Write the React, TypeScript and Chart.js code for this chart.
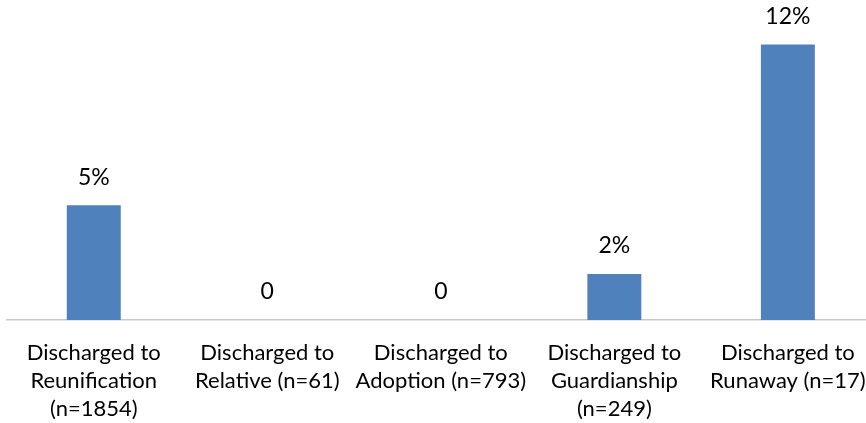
import React, { useEffect, useRef } from "react";
import { Chart, registerables } from "chart.js";

Chart.register(...registerables);

const categories: string[][] = [
  ["Discharged to", "Reunification", "(n=1854)"],
  ["Discharged to", "Relative (n=61)"],
  ["Discharged to", "Adoption (n=793)"],
  ["Discharged to", "Guardianship", "(n=249)"],
  ["Discharged to", "Runaway (n=17)"],
];
const values: number[] = [5, 0, 0, 2, 12];
const valueLabels: string[] = ["5%", "0", "0", "2%", "12%"];

const FONT = "Lato, 'Noto Sans', sans-serif";

const valueLabelPlugin = {
  id: "valueLabels",
  afterDatasetsDraw(chart: any) {
    const ctx = chart.ctx;
    const meta = chart.getDatasetMeta(0);
    ctx.save();
    ctx.font = `23px ${FONT}`;
    ctx.fillStyle = "#000000";
    ctx.textAlign = "center";
    ctx.textBaseline = "middle";
    meta.data.forEach((bar: any, i: number) => {
      ctx.fillText(valueLabels[i], bar.x, bar.y - 28);
    });
    ctx.restore();
  },
};

export default function App() {
  const ref = useRef<HTMLCanvasElement | null>(null);
  useEffect(() => {
    document.body.style.overflow = "hidden";
    if (!ref.current) return;
    const chart = new Chart(ref.current, {
      type: "bar",
      data: {
        labels: categories,
        datasets: [
          {
            data: values,
            backgroundColor: "#4F81BD",
            borderWidth: 0,
            barPercentage: 1,
            categoryPercentage: 0.311,
          },
        ],
      },
      options: {
        animation: false,
        responsive: false,
        maintainAspectRatio: false,
        layout: { padding: { left: 7, right: 3, top: 10, bottom: 1 } },
        plugins: {
          legend: { display: false },
          tooltip: { enabled: false },
        },
        scales: {
          x: {
            grid: { display: false, drawTicks: false },
            border: { display: true, color: "#C8C8C8", width: 1.5 },
            ticks: {
              color: "#000000",
              font: { family: FONT, size: 22, lineHeight: "28px" },
              padding: 19,
              maxRotation: 0,
              minRotation: 0,
              autoSkip: false,
            },
          },
          y: {
            display: false,
            min: 0,
            max: 13.5,
          },
        },
      },
      plugins: [valueLabelPlugin],
    });
    return () => chart.destroy();
  }, []);
  return (
    <div style={{ position: "absolute", left: 0, top: 0, width: 885, height: 443, overflow: "hidden" }}>
      <canvas ref={ref} width={885} height={443} style={{ width: 885, height: 443, display: "block" }} />
    </div>
  );
}
